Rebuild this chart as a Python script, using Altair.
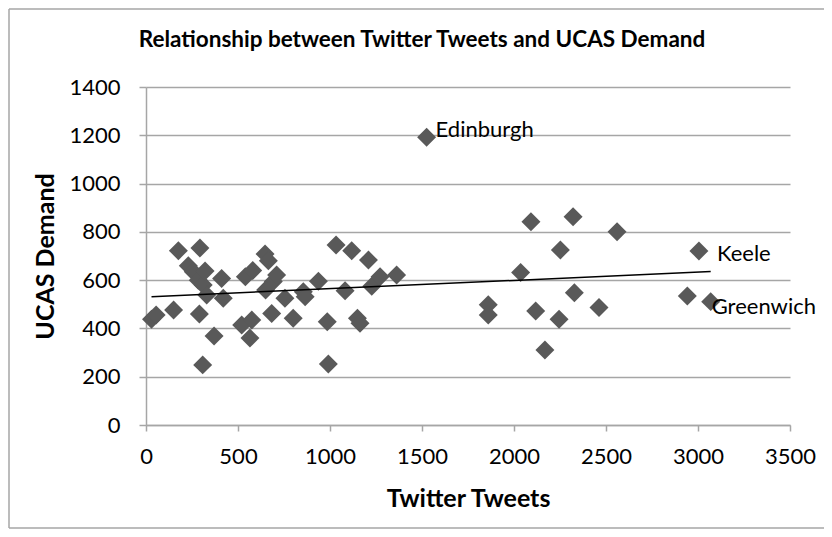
import altair as alt
import pandas as pd

tweets = [30, 55, 150, 176, 230, 257, 293, 284, 311, 321,
          330, 290, 308, 370, 411, 420, 540, 580, 520, 575,
          565, 647, 665, 692, 710, 650, 683, 755, 800, 855,
          865, 937, 985, 991, 1033, 1082, 1118, 1149, 1163, 1209,
          1227, 1272, 1362, 1525, 1860, 1860, 2036, 2092, 2118, 2168,
          2245, 2252, 2321, 2328, 2462, 2560, 2942, 3005, 3069]
demand = [438, 456, 476, 722, 660, 635, 733, 600, 580, 638,
          538, 460, 249, 369, 607, 525, 614, 640, 414, 435,
          360, 708, 680, 594, 621, 559, 462, 525, 442, 552,
          531, 595, 428, 253, 746, 556, 722, 442, 421, 683,
          575, 614, 621, 1192, 498, 456, 632, 842, 472, 311,
          438, 725, 863, 548, 487, 800, 534, 721, 511]
labelled = {1525: "Edinburgh", 3005: "Keele", 3069: "Greenwich"}
x_ticks = [0, 500, 1000, 1500, 2000, 2500, 3000, 3500]
y_ticks = [0, 200, 400, 600, 800, 1000, 1200, 1400]
title_text = "Relationship between Twitter Tweets and UCAS Demand"

df = pd.DataFrame({"tweets": tweets, "demand": demand})
df["name"] = df["tweets"].map(labelled).fillna("")
one = df[df["name"] == "Edinburgh"]

FONT = "Lato"
GRID = "#A6A6A6"

x_enc = alt.X("tweets:Q", scale=alt.Scale(domain=[0, 3500], nice=False),
              axis=alt.Axis(values=x_ticks, format="d", title="Twitter Tweets", grid=False,
                            labelFlush=False, labelOverlap=False,
                            tickSize=6, labelPadding=15, titlePadding=19))
y_enc = alt.Y("demand:Q", scale=alt.Scale(domain=[0, 1400], nice=False),
              axis=alt.Axis(values=y_ticks, format="d", title="UCAS Demand", grid=True,
                            labelFlush=False, labelOverlap=False,
                            tickSize=7, labelPadding=19, titlePadding=10))

frame_style = dict(color=GRID, strokeWidth=1.5, clip=False)
frame_left = alt.Chart(one).mark_rule(**frame_style).encode(
    x=alt.value(-137), y=alt.value(-78), y2=alt.value(441))
frame_top = alt.Chart(one).mark_rule(**frame_style).encode(
    x=alt.value(-137), x2=alt.value(760), y=alt.value(-78))
frame_bottom = alt.Chart(one).mark_rule(**frame_style).encode(
    x=alt.value(-137), x2=alt.value(760), y=alt.value(441))

title = alt.Chart(one).mark_text(
    text=title_text, font=FONT, fontSize=22.5, fontWeight="bold", color="black",
    align="center", baseline="middle"
).encode(x=alt.value(276), y=alt.value(-47))

points = alt.Chart(df).mark_point(shape="diamond", filled=True, size=360,
                                  color="#595959", opacity=1).encode(x=x_enc, y=y_enc)

trend = alt.Chart(df).transform_regression("tweets", "demand").mark_line(
    color="black", strokeWidth=1.5).encode(x="tweets:Q", y="demand:Q")

def label(name, dx, dy):
    return alt.Chart(df).transform_filter(alt.datum.name == name).mark_text(
        align="left", baseline="middle", dx=dx, dy=dy, font=FONT, fontSize=22,
        color="black").encode(x="tweets:Q", y="demand:Q", text="name:N")

chart = alt.layer(
    frame_left, frame_top, frame_bottom, title, points, trend,
    label("Edinburgh", 9, -7), label("Keele", 18, 3), label("Greenwich", 1, 5)
).properties(
    width=644, height=338,
    autosize=alt.AutoSizeParams(type="none"),
    padding={"left": 138, "top": 79, "right": 34, "bottom": 104},
).configure_view(stroke=None).configure_axis(
    labelFont=FONT, labelFontSize=22, labelColor="black",
    titleFont=FONT, titleFontSize=25, titleFontWeight="bold", titleColor="black",
    domainColor=GRID, domainWidth=1.5, tickColor=GRID, tickWidth=1.5,
    gridColor=GRID, gridWidth=1.5
)

chart.save("out.html", embed_options={"renderer": "svg", "actions": False})
